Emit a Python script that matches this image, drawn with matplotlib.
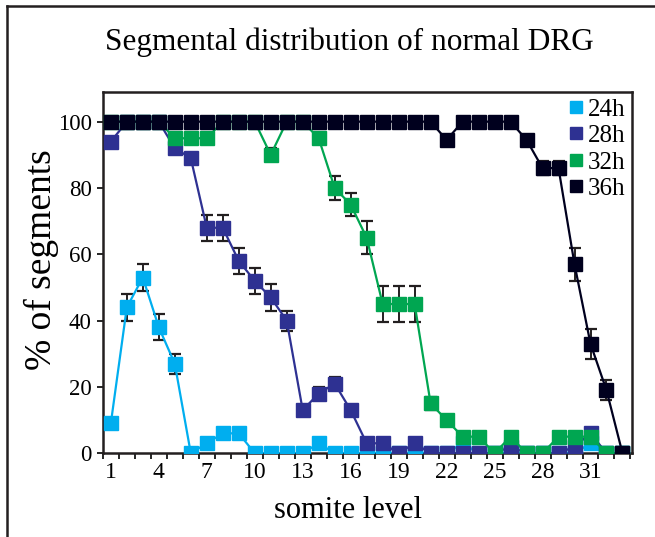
import numpy as np
import matplotlib
matplotlib.use("Agg")
import matplotlib.pyplot as plt
from matplotlib.lines import Line2D

plt.rcParams["font.family"] = ["Liberation Serif", "DejaVu Serif"]

# ── Data ─────────────────────────────────────────────────────────────────────
somite = np.arange(1, 34)

h24 = [9, 44, 53, 38, 27, 0, 3, 6, 6, 0, 0, 0, 0, 3, 0, 0, 0, 0, 0, 0,
       0, 0, 3, 0, 0, 0, 0, 0, 0, 0, 3, 0, 0]
h24_err = [0, 4, 4, 4, 3, 0, 0, 0, 0, 0, 0, 0, 0, 0, 0, 0, 0, 0, 0, 0,
           0, 0, 0, 0, 0, 0, 0, 0, 0, 0, 0, 0, 0]

h28 = [94, 100, 100, 100, 92, 89, 68, 68, 58, 52, 47, 40, 13, 18, 21, 13,
       3, 3, 0, 3, 0, 0, 0, 0, 0, 2, 0, 0, 0, 2, 6, 0, 0]
h28_err = [0, 0, 0, 0, 0, 0, 4, 4, 4, 4, 4, 3, 0, 2, 2, 0,
           0, 0, 0, 0, 0, 0, 0, 0, 0, 0, 0, 0, 0, 0, 0, 0, 0]

h32 = [100, 100, 100, 100, 95, 95, 95, 100, 100, 100, 90, 100, 100, 95, 80,
       75, 65, 45, 45, 45, 15, 10, 5, 5, 0, 5, 0, 0, 5, 5, 5, 0, 0]
h32_err = [0, 0, 0, 0, 0, 0, 0, 0, 0, 0, 2, 0, 0, 0, 3.5,
           3.5, 5, 5.5, 5.5, 5.5, 2, 1, 0, 0, 0, 0, 0, 0, 0, 0, 0, 0, 0]

h36 = [100] * 21 + [94.5, 100, 100, 100, 100, 94.5, 86, 86, 57, 33, 19, 0]
h36_err = [0] * 21 + [0, 0, 0, 0, 0, 0, 2, 2, 5, 4.5, 3, 0]

series = [("24h", h24, h24_err, "#00AEEF"),
          ("28h", h28, h28_err, "#2E3192"),
          ("32h", h32, h32_err, "#00A651"),
          ("36h", h36, h36_err, "#00001E")]

xlabels = [1, 4, 7, 10, 13, 16, 19, 22, 25, 28, 31]
yticks = [0, 20, 40, 60, 80, 100]

# ── Figure ───────────────────────────────────────────────────────────────────
fig = plt.figure(figsize=(6.55, 5.37), dpi=100)
ax = fig.add_axes([0.157, 0.156, 0.808, 0.673])

for i, (name, vals, err, col) in enumerate(series):
    ax.errorbar(somite, vals, yerr=err, fmt="none", ecolor="#231F20",
                elinewidth=1.4, capsize=4.5, capthick=1.6, zorder=2 + 2 * i)
    ax.plot(somite, vals, "-s", color=col, lw=1.6, ms=9.5, mec=col,
            label=name, zorder=3 + 2 * i)

ax.set_xlim(0.5, 33.6)
ax.set_ylim(0, 109)

ax.set_xticks(xlabels)
ax.set_xticklabels([str(v) for v in xlabels], fontsize=17)
ax.set_xticks(np.arange(0.5, 33.6, 1.0), minor=True)
ax.tick_params(axis="x", which="major", length=0, pad=6)
ax.tick_params(axis="x", which="minor", length=4, width=1.2, direction="out")

ax.set_yticks(yticks)
ax.set_yticklabels([str(v) for v in yticks], fontsize=16.5)
ax.tick_params(axis="y", length=4, width=1.2, direction="out", pad=4)

for s in ax.spines.values():
    s.set_linewidth(1.8)
    s.set_color("#231F20")

ax.set_xlabel("somite level", fontsize=22)
ax.xaxis.set_label_coords(0.463, -0.118)
ax.set_ylabel("% of segments", fontsize=27)
ax.yaxis.set_label_coords(-0.083, 0.535)

handles = [Line2D([], [], marker="s", ls="none", color=c, mec=c, ms=9)
           for _, _, _, c in series]
ax.legend(handles, [n for n, _, _, _ in series], loc="upper right",
          frameon=False, fontsize=18, handlelength=0.5, handletextpad=0.25,
          labelspacing=0.16, borderaxespad=0.1, borderpad=0.15)

fig.text(0.534, 0.922, "Segmental distribution of normal DRG",
         ha="center", va="center", fontsize=22.5)

# outer frame (left and top edges of the original box)
fig.add_artist(Line2D([0.011, 0.011], [0.0, 0.989], color="#231F20", lw=1.8,
                      transform=fig.transFigure))
fig.add_artist(Line2D([0.011, 1.0], [0.989, 0.989], color="#231F20", lw=1.8,
                      transform=fig.transFigure))

fig.savefig("out.png", dpi=100)
